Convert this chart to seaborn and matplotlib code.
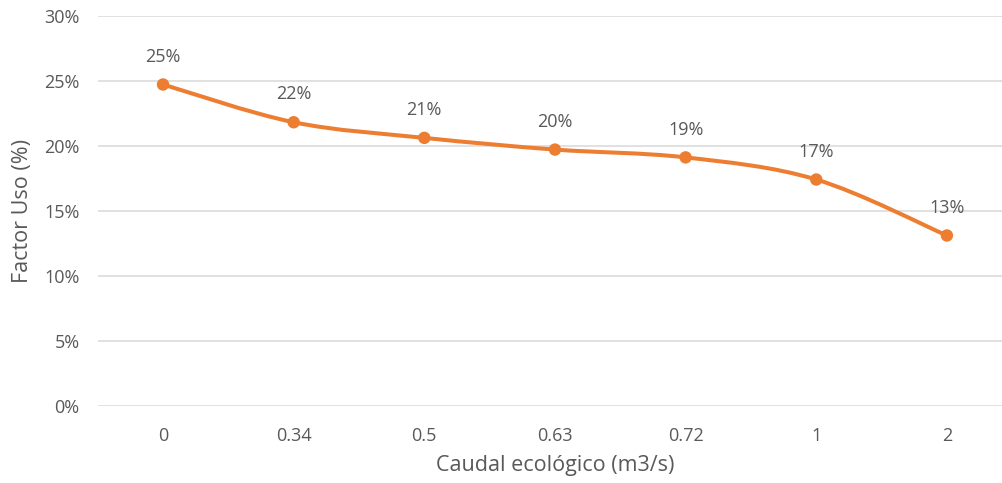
import pandas as pd
import seaborn as sns
import matplotlib.pyplot as plt
from matplotlib.path import Path
from matplotlib.patches import PathPatch
from matplotlib.ticker import FuncFormatter

# Data
caudal = ["0", "0.34", "0.5", "0.63", "0.72", "1", "2"]
factor_uso = [24.7, 21.8, 20.6, 19.7, 19.1, 17.4, 13.1]
y_ticks = [0, 5, 10, 15, 20, 25, 30]

df = pd.DataFrame({"caudal": caudal, "factor": factor_uso})
df["pos"] = range(len(df))

orange = "#ED7D31"
grey_text = "#595959"
fs = 13

sns.set_theme(style="white")
plt.rcParams["font.family"] = ["Open Sans", "DejaVu Sans"]

fig = plt.figure(figsize=(10.03, 4.83), dpi=100)
ax = fig.add_axes([0.0974, 0.1594, 0.9118, 0.8085])

# Smoothed line (Excel-like bezier through the points)
xs = list(df["pos"])
ys = list(df["factor"])
verts = [(xs[0], ys[0])]
codes = [Path.MOVETO]
n = len(xs)
for i in range(n - 1):
    p0 = (xs[max(i - 1, 0)], ys[max(i - 1, 0)])
    p1 = (xs[i], ys[i])
    p2 = (xs[i + 1], ys[i + 1])
    p3 = (xs[min(i + 2, n - 1)], ys[min(i + 2, n - 1)])
    c1 = (p1[0] + (p2[0] - p0[0]) / 6, p1[1] + (p2[1] - p0[1]) / 6)
    c2 = (p2[0] - (p3[0] - p1[0]) / 6, p2[1] - (p3[1] - p1[1]) / 6)
    verts += [c1, c2, p2]
    codes += [Path.CURVE4] * 3
ax.add_patch(PathPatch(Path(verts, codes), facecolor="none", edgecolor=orange,
                       lw=2.9, capstyle="round", joinstyle="round", zorder=3))

sns.scatterplot(data=df, x="pos", y="factor", color=orange, s=80,
                edgecolor="none", ax=ax, zorder=4, legend=False)

for x, y in zip(xs, ys):
    ax.annotate(f"{y:.0f}%", (x, y), xytext=(0, 20), textcoords="offset points",
                ha="center", va="center", fontsize=fs, color=grey_text)

ax.set_xlim(-0.5, n - 0.5)
ax.set_ylim(0, 30)
ax.set_yticks(y_ticks)
ax.yaxis.set_major_formatter(FuncFormatter(lambda v, _: f"{v:.0f}%"))
ax.set_xticks(xs)
ax.set_xticklabels(caudal)
ax.grid(axis="y", color="#D9D9D9", lw=1.1)
ax.set_axisbelow(True)
for s in ax.spines.values():
    s.set_visible(False)
ax.tick_params(axis="both", length=0, labelsize=fs, labelcolor=grey_text)
ax.tick_params(axis="x", pad=15)
ax.tick_params(axis="y", pad=13)

ax.set_xlabel("Caudal ecológico (m3/s)", fontsize=15.5, color=grey_text, labelpad=7)
ax.set_ylabel("Factor Uso (%)", fontsize=15.5, color=grey_text, labelpad=8)

fig.savefig("out.png", dpi=100)
